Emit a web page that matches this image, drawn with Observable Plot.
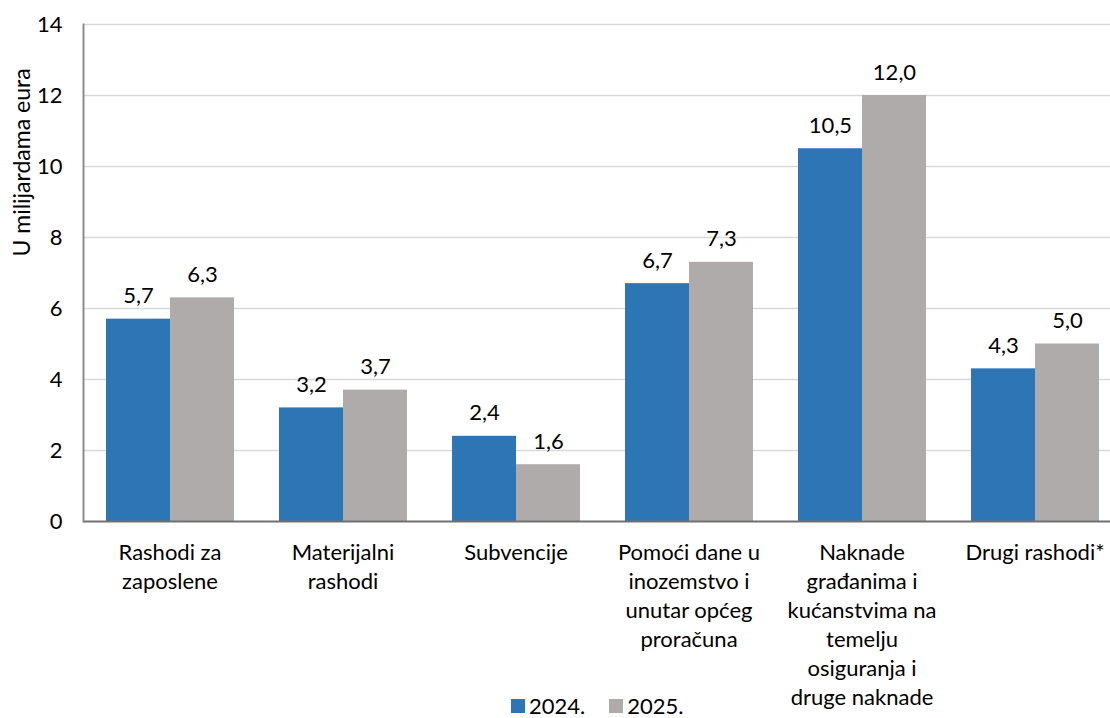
<!DOCTYPE html>
<html>
<head>
<meta charset="utf-8">
<script src="https://cdn.jsdelivr.net/npm/d3@7"></script>
<script src="https://cdn.jsdelivr.net/npm/@observablehq/plot@0.6"></script>
<style>
  html, body { margin: 0; padding: 0; background: #fff; overflow: hidden; }
  #wrap { position: relative; width: 1110px; height: 718px; overflow: hidden; }
  #chart svg { max-width: none !important; }
  #legend { position: absolute; left: 511px; top: 695px; font-family: Lato, sans-serif; font-size: 22px; line-height: 22px; color: #000; display: flex; align-items: center; }
  #legend span.sw { display: inline-block; width: 14px; height: 14px; margin-right: 4px; }
  #legend span.lab { margin-right: 24px; }
</style>
</head>
<body>
<div id="wrap"><div id="chart"></div>
<div id="legend"></div></div>
<script>
const categories = ["Rashodi za zaposlene", "Materijalni rashodi", "Subvencije", "Pomoći dane u inozemstvo i unutar općeg proračuna", "Naknade građanima i kućanstvima na temelju osiguranja i druge naknade", "Drugi rashodi*"];
const categoryLabels = ["Rashodi za\nzaposlene", "Materijalni\nrashodi", "Subvencije", "Pomoći dane u\ninozemstvo i\nunutar općeg\nproračuna", "Naknade\ngrađanima i\nkućanstvima na\ntemelju\nosiguranja i\ndruge naknade", "Drugi rashodi*"];
const years = ["2024.", "2025."];
const values2024 = [5.7, 3.2, 2.4, 6.7, 10.5, 4.3];
const values2025 = [6.3, 3.7, 1.6, 7.3, 12.0, 5.0];
const yTicks = [0, 2, 4, 6, 8, 10, 12, 14];
const colors = ["#2E75B6", "#AFABAB"];
const yLabel = "U milijardama eura";

const rows = categories.flatMap((c, i) => [
  {cat: c, year: years[0], v: values2024[i]},
  {cat: c, year: years[1], v: values2025[i]}
]);
const labelOf = new Map(categories.map((c, i) => [c, categoryLabels[i]]));
const fmt = d => d.v.toFixed(1).replace(".", ",");

const chart = Plot.plot({
  width: 1121,
  height: 718,
  marginLeft: 83,
  marginRight: 0,
  marginTop: 24,
  marginBottom: 197,
  style: {fontFamily: "Lato, sans-serif", fontSize: "22px", color: "#000", background: "white", overflow: "visible", maxWidth: "none"},
  fx: {domain: categories, padding: 0, label: null},
  x: {domain: years, paddingInner: 0, paddingOuter: 0.35, axis: null},
  y: {domain: [0, 14], axis: null},
  color: {domain: years, range: colors},
  marks: [
    Plot.ruleY(yTicks.slice(1), {stroke: "#d9d9d9", strokeWidth: 1.5}),
    Plot.barY(rows, {fx: "cat", x: "year", y: "v", fill: "year"}),
    Plot.text(rows, {fx: "cat", x: "year", y: "v", text: fmt, dy: -23, fontSize: 22, fill: "#000"}),
    Plot.ruleY([0], {stroke: "#707070", strokeWidth: 2}),
    Plot.frame({anchor: "left", facet: "super", stroke: "#8c8c8c", strokeWidth: 2}),
    Plot.axisY({ticks: yTicks, tickSize: 0, tickPadding: 21, fontSize: 22, label: null, fill: "#000"}),
    Plot.axisFx({anchor: "bottom", tickSize: 0, tickPadding: 18, label: null, tickFormat: d => labelOf.get(d), lineHeight: 1.32, fontSize: 22, fill: "#000"}),
    Plot.text([yLabel], {fx: () => categories[0], frameAnchor: "top-left", textAnchor: "middle", lineAnchor: "middle", rotate: -90, dx: -61, dy: 138, fontSize: 23, fill: "#000"})
  ]
});
document.getElementById("chart").appendChild(chart);

const legend = document.getElementById("legend");
years.forEach((y, i) => {
  const sw = document.createElement("span");
  sw.className = "sw";
  sw.style.background = colors[i];
  const lab = document.createElement("span");
  lab.className = "lab";
  lab.textContent = y;
  legend.appendChild(sw);
  legend.appendChild(lab);
});
</script>
</body>
</html>
